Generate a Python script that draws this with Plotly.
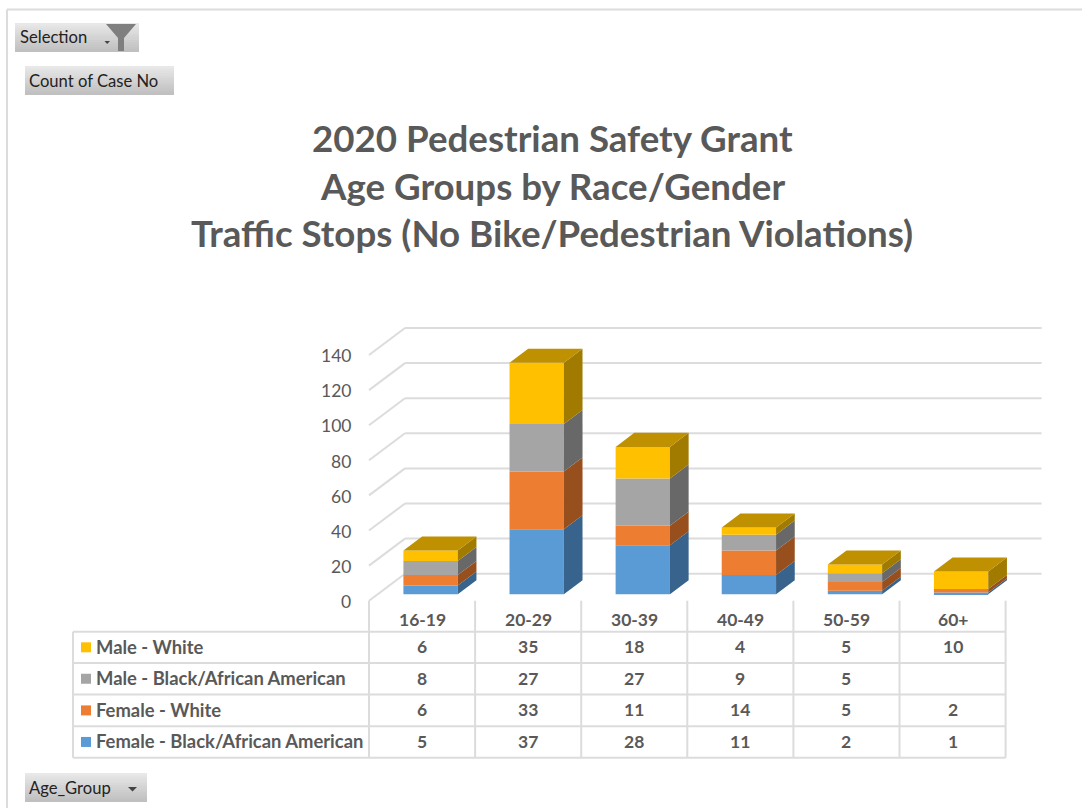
import plotly.graph_objects as go

categories = ["16-19", "20-29", "30-39", "40-49", "50-59", "60+"]
female_black = [5, 37, 28, 11, 2, 1]
female_white = [6, 33, 11, 14, 5, 2]
male_black = [8, 27, 27, 9, 5, None]
male_white = [6, 35, 18, 4, 5, 10]
y_ticks = [0, 20, 40, 60, 80, 100, 120, 140]
title_lines = ["2020 Pedestrian Safety Grant", "Age Groups by Race/Gender",
               "Traffic Stops (No Bike/Pedestrian Violations)"]

series = [
    ("Female - Black/African American", female_black, "#5B9BD5", "#37638C"),
    ("Female - White", female_white, "#ED7D31", "#974F1D"),
    ("Male - Black/African American", male_black, "#A5A5A5", "#686868"),
    ("Male - White", male_white, "#FFC000", "#A17A00"),
]
TOP_COLOR = "#BF9000"
GRID = "#DCDCDC"
GW = 2
TEXT = "#595959"
FONT = "Lato"

W, H = 1082, 808
CAT_W, CAT_X0 = 106.1, 422.05
UNIT, Y0 = 1.755, 600.7
DX = 36 / CAT_W        # depth of the plot box, in category units
DY = 27 / UNIT         # depth of the plot box, in value units
D0, D1 = 0.237, 0.756  # front and back of the bars, as fraction of the depth
BAR_W = 0.512


def px(x):
    return x / W


def py(y):
    return 1 - y / H


fig = go.Figure()
shapes, ann = [], []

# grid: back wall and left wall
for t in y_ticks:
    shapes.append(dict(type="line", xref="x", yref="y", layer="below",
                       x0=-0.5 + DX, x1=5.5 + DX, y0=t + DY, y1=t + DY,
                       line=dict(color=GRID, width=GW)))
    shapes.append(dict(type="line", xref="x", yref="y", layer="below",
                       x0=-0.5, x1=-0.5 + DX, y0=t, y1=t + DY,
                       line=dict(color=GRID, width=GW)))
    ann.append(dict(xref="paper", yref="y", x=px(353), y=t - 0.4, text=str(t), showarrow=False,
                    xanchor="right", yanchor="middle", font=dict(family=FONT, size=17.5, color=TEXT)))

# bars
bases = [0.0] * len(categories)
xs = [i + D0 * DX for i in range(len(categories))]
for name, vals, col, side in series:
    v = [a or 0 for a in vals]
    fig.add_trace(go.Bar(x=xs, y=v, base=[b + D0 * DY for b in bases], width=BAR_W, name=name,
                         marker=dict(color=col, line=dict(width=0)), showlegend=False))
    # side faces of each segment
    for i, (b, h) in enumerate(zip(bases, v)):
        if h == 0:
            continue
        xr = i + BAR_W / 2
        fig.add_trace(go.Scatter(
            x=[xr + D0 * DX, xr + D1 * DX, xr + D1 * DX, xr + D0 * DX, xr + D0 * DX],
            y=[b + D0 * DY, b + D1 * DY, b + h + D1 * DY, b + h + D0 * DY, b + D0 * DY],
            mode="lines", line=dict(width=0), fill="toself", fillcolor=side,
            hoverinfo="skip", showlegend=False))
    bases = [b + h for b, h in zip(bases, v)]

# top faces
for i, t in enumerate(bases):
    xl, xr = i - BAR_W / 2, i + BAR_W / 2
    fig.add_trace(go.Scatter(
        x=[xl + D0 * DX, xr + D0 * DX, xr + D1 * DX, xl + D1 * DX, xl + D0 * DX],
        y=[t + D0 * DY, t + D0 * DY, t + D1 * DY, t + D1 * DY, t + D0 * DY],
        mode="lines", line=dict(width=0), fill="toself", fillcolor=TOP_COLOR,
        hoverinfo="skip", showlegend=False))

# data table
ROW_Y = [631.7, 662.9, 694.6, 726.2, 757.7]
TAB_L, TAB_X0, TAB_B = 73, 369, 757.7
TFONT = dict(family=FONT, size=17.5, color=TEXT, weight=700)
LFONT = dict(family=FONT, size=18.4, color=TEXT, weight=700)
for y in ROW_Y:
    shapes.append(dict(type="line", xref="paper", yref="paper", x0=px(TAB_L), x1=px(TAB_X0 + 6 * CAT_W),
                       y0=py(y), y1=py(y), line=dict(color=GRID, width=GW)))
shapes.append(dict(type="line", xref="paper", yref="paper", x0=px(TAB_L), x1=px(TAB_L),
                   y0=py(ROW_Y[0]), y1=py(TAB_B), line=dict(color=GRID, width=GW)))
for k in range(7):
    shapes.append(dict(type="line", xref="paper", yref="paper", x0=px(TAB_X0 + k * CAT_W), x1=px(TAB_X0 + k * CAT_W),
                       y0=py(Y0), y1=py(TAB_B), line=dict(color=GRID, width=GW)))
for i, c in enumerate(categories):
    ann.append(dict(xref="x", yref="paper", x=i, y=py(619.5), text=c, showarrow=False, yanchor="middle", font=TFONT))
for r, (name, vals, col, side) in enumerate(reversed(series)):
    yc = (ROW_Y[r] + ROW_Y[r + 1]) / 2
    shapes.append(dict(type="rect", xref="paper", yref="paper", x0=px(81), x1=px(91), y0=py(yc - 5), y1=py(yc + 5),
                       line=dict(width=0), fillcolor=col))
    ann.append(dict(xref="paper", yref="paper", x=px(94), y=py(yc - 0.8), text=name, showarrow=False, xanchor="left",
                    yanchor="middle", font=LFONT))
    for i, v in enumerate(vals):
        if v is not None:
            ann.append(dict(xref="x", yref="paper", x=i, y=py(yc - 0.5), text=str(v), showarrow=False, yanchor="middle",
                            font=TFONT))

# title
for line, yc in zip(title_lines, [137.5, 185.5, 233.5]):
    ann.append(dict(xref="paper", yref="paper", x=px(552), y=py(yc), text=line, showarrow=False, yanchor="middle",
                    font=dict(family=FONT, size=36.7, color=TEXT, weight=700)))


# pivot buttons
def button(x0, y0, x1, y1, label, tx):
    n = 12
    for k in range(n):
        v = int(232 - k / (n - 1) * 40)
        shapes.append(dict(type="rect", xref="paper", yref="paper", x0=px(x0), x1=px(x1),
                           y0=py(y0 + (y1 - y0) * k / n), y1=py(y1),
                           line=dict(width=0), fillcolor=f"rgb({v},{v},{v})"))
    ann.append(dict(xref="paper", yref="paper", x=px(tx), y=py((y0 + y1) / 2), text=label, showarrow=False,
                    xanchor="left", yanchor="middle", font=dict(family=FONT, size=16.6, color="#222222")))


button(15, 23, 139, 52, "Selection", 17.5)
button(25, 66, 174, 95, "Count of Case No", 27)
button(25, 773, 147, 802, "Age_Group", 27)


def poly(points, color):
    path = "M " + " L ".join(f"{px(x):.5f},{py(y):.5f}" for x, y in points) + " Z"
    shapes.append(dict(type="path", xref="paper", yref="paper", path=path, line=dict(width=0), fillcolor=color))


poly([(106, 24), (136, 24), (124, 38), (124, 51), (118, 51), (118, 38)], "#7F7F7F")  # funnel
poly([(104.5, 41), (110, 41), (107.2, 44)], "#444444")
poly([(128, 787), (137, 787), (132.5, 791.5)], "#444444")

# page frame
shapes.append(dict(type="line", xref="paper", yref="paper", x0=px(7), x1=1, y0=py(9.5), y1=py(9.5),
                   line=dict(color="#DCDCDC", width=2)))
shapes.append(dict(type="line", xref="paper", yref="paper", x0=px(7), x1=px(7), y0=py(9.5), y1=0,
                   line=dict(color="#DCDCDC", width=2)))

fig.update_layout(
    width=W, height=H, margin=dict(l=0, r=0, t=0, b=0), paper_bgcolor="white", plot_bgcolor="white",
    barmode="overlay", showlegend=False, shapes=shapes, annotations=ann,
    xaxis=dict(range=[-CAT_X0 / CAT_W, (W - CAT_X0) / CAT_W], visible=False, fixedrange=True),
    yaxis=dict(range=[(Y0 - H) / UNIT, Y0 / UNIT], visible=False, fixedrange=True),
)
fig.write_html("out.html", config=dict(displayModeBar=False),
               post_script="document.body.style.margin='0';document.body.style.overflow='hidden';")
